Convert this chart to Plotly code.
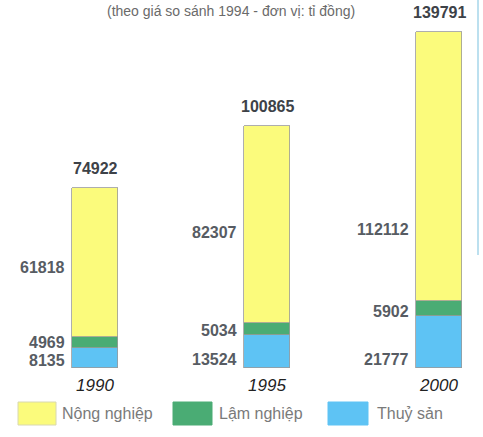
import plotly.graph_objects as go

years = ["1990", "1995", "2000"]
series_names = ["Thuỷ sản", "Lậm nghiệp", "Nộng nghiệp"]
thuy_san = [8135, 13524, 21777]
lam_nghiep = [4969, 5034, 5902]
nong_nghiep = [61818, 82307, 112112]
totals = [74922, 100865, 139791]
title_text = "(theo giá so sánh 1994 - đơn vị: tỉ đồng)"

colors = ["#5ec3f4", "#4aac74", "#fbfb7c"]
series = [thuy_san, lam_nghiep, nong_nghiep]

W, H = 483, 437
M_B = 69
PLOT_H = H - M_B
BAR_W = 0.267
X0 = 95 / 172.0
X1 = (W - 95) / 172.0
YMAX = totals[2] * PLOT_H / 336.0

def py(p):
    return (PLOT_H - p) / PLOT_H

def px(p):
    return p / W

fig = go.Figure()
for name, vals, col in zip(series_names, series, colors):
    fig.add_trace(go.Bar(
        x=years, y=vals, name=name, width=BAR_W,
        marker=dict(color=col, line=dict(color="#9a9a9a", width=0.8)),
        showlegend=False, hoverinfo="skip",
    ))

label_font = dict(family="Liberation Sans, Arial", size=16, color="#575c63")
# pixel nudges for segment labels (style only)
shifts = {0: [-2, -8, -18], 1: [0, -1, -3], 2: [-5, -8, -63]}
for si, vals in enumerate(series):
    for i, v in enumerate(vals):
        base = sum(series[k][i] for k in range(si))
        fig.add_annotation(
            x=i - BAR_W / 2, y=base + v / 2, text=f"<b>{v}</b>",
            xref="x", yref="y", xanchor="right", yanchor="middle",
            xshift=-5, yshift=shifts[si][i], showarrow=False, font=label_font,
        )
for i, t in enumerate(totals):
    fig.add_annotation(
        x=i, y=t, text=f"<b>{t}</b>", xref="x", yref="y",
        xanchor="center", yanchor="bottom", yshift=9, showarrow=False,
        font=dict(family="Liberation Sans, Arial", size=16, color="#3d4248"),
    )

fig.add_annotation(
    x=px(231), y=py(1), xref="paper", yref="paper", text=title_text,
    showarrow=False, xanchor="center", yanchor="top",
    font=dict(family="Liberation Sans, Arial", size=14, color="#6a6a6a"),
)

# legend drawn manually
leg = [(18, 56, 60, colors[2], series_names[2]),
       (173, 212, 217, colors[1], series_names[1]),
       (328, 368, 375, colors[0], series_names[0])]
for x0, x1, tx, col, name in leg:
    fig.add_shape(type="rect", xref="paper", yref="paper",
                  x0=px(x0), x1=px(x1), y0=py(425), y1=py(402),
                  fillcolor=col, line=dict(color="#d8d8b0" if col == colors[2] else col, width=1))
    fig.add_annotation(x=px(tx), y=py(413), xref="paper", yref="paper",
                       text=name, showarrow=False, xanchor="left", yanchor="middle",
                       font=dict(family="Liberation Sans, Arial", size=16, color="#7a7a7a"))

# right-edge frame line
fig.add_shape(type="line", xref="paper", yref="paper",
              x0=px(478), x1=px(478), y0=py(0), y1=py(255),
              line=dict(color="#a6d6ea", width=1.5))

fig.update_layout(
    barmode="stack",
    width=W, height=H,
    margin=dict(l=0, r=0, t=0, b=M_B, pad=0),
    paper_bgcolor="white", plot_bgcolor="white",
    bargap=0,
    xaxis=dict(range=[-X0, X1], showgrid=False, zeroline=False, showline=False,
               ticks="outside", ticklen=2, tickcolor="rgba(0,0,0,0)",
               tickfont=dict(family="Liberation Sans, Arial", size=17, color="#222", style="italic"),
               fixedrange=True),
    yaxis=dict(range=[0, YMAX], visible=False, fixedrange=True),
)

fig.write_html("out.html")
